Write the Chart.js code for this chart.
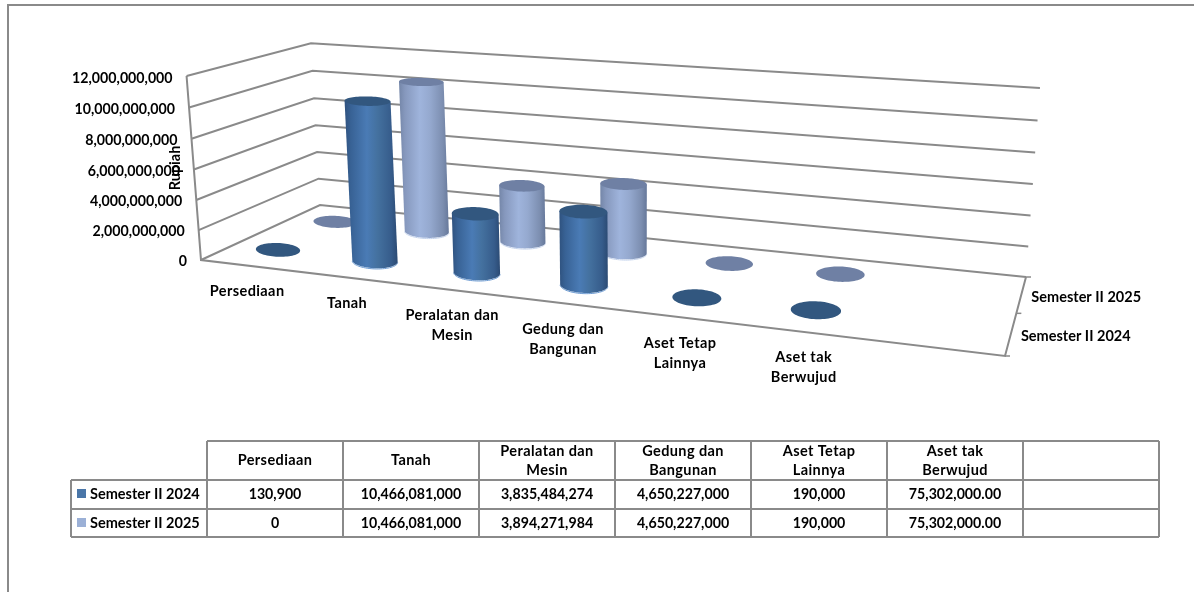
<!DOCTYPE html>
<html>
<head>
<meta charset="utf-8">
<style>html,body{margin:0;padding:0;background:#fff;overflow:hidden}canvas{display:block}</style>
<script src="https://cdn.jsdelivr.net/npm/chart.js@4"></script>
</head>
<body>
<canvas id="c" width="1194" height="592"></canvas>
<script>
const categories = [['Persediaan'], ['Tanah'], ['Peralatan dan','Mesin'], ['Gedung dan','Bangunan'], ['Aset Tetap','Lainnya'], ['Aset tak','Berwujud'], ['']];
const series2024 = [130900, 10466081000, 3835484274, 4650227000, 190000, 75302000, null];
const series2025 = [0, 10466081000, 3894271984, 4650227000, 190000, 75302000, null];
const table2024 = ['130,900','10,466,081,000','3,835,484,274','4,650,227,000','190,000','75,302,000.00',''];
const table2025 = ['0','10,466,081,000','3,894,271,984','4,650,227,000','190,000','75,302,000.00',''];
const seriesNames = ['Semester II 2024','Semester II 2025'];
const yAxisTitle = 'Rupiah';

const FONT_NUM = 'bold 14.2px Lato, Carlito, sans-serif';
const FONT_LAB = 'bold 14.5px Lato, Carlito, sans-serif';
const LINE = '#8a8a8a';
const TEXT = '#000';

// camera: floor homography plus a vertical vanishing point
function camera(p0,p1,p2,p3,vp,s){
  const dx1=p1[0]-p2[0],dx2=p3[0]-p2[0],sx=p0[0]-p1[0]+p2[0]-p3[0];
  const dy1=p1[1]-p2[1],dy2=p3[1]-p2[1],sy=p0[1]-p1[1]+p2[1]-p3[1];
  const den=dx1*dy2-dx2*dy1;
  const g=(sx*dy2-dx2*sy)/den,h=(dx1*sy-sx*dy1)/den;
  const a=p1[0]-p0[0]+g*p1[0],b=p3[0]-p0[0]+h*p3[0],c=p0[0];
  const d=p1[1]-p0[1]+g*p1[1],e=p3[1]-p0[1]+h*p3[1],f=p0[1];
  return (u,v,t)=>{
    const w=g*u+h*v+1+s*t;
    return [(a*u+b*v+c+vp[0]*s*t)/w,(d*u+e*v+f+vp[1]*s*t)/w];
  };
}
const P = camera([201,260],[1005,356],[1026,277],[320,205],[627,5693],-0.03276);

function poly(ctx,pts,close){
  ctx.beginPath();
  pts.forEach((p,i)=>i?ctx.lineTo(p[0],p[1]):ctx.moveTo(p[0],p[1]));
  if(close)ctx.closePath();
}
function ring(u,v,t,ru,rv){
  const c=P(u,v,t),e=.005;
  const pu0=P(u-e,v,t),pu1=P(u+e,v,t),pv0=P(u,v-e,t),pv1=P(u,v+e,t);
  const dXdu=(pu1[0]-pu0[0])/(2*e),dYdu=(pu1[1]-pu0[1])/(2*e),dYdv=(pv1[1]-pv0[1])/(2*e);
  const a=ru*Math.sqrt(Math.abs(dXdu)*700),tilt=.3*dYdu/dXdu,b=rv*Math.abs(dYdv);
  const out=[];
  for(let i=0;i<72;i++){
    const th=i/72*Math.PI*2,cs=Math.cos(th),sn=Math.sin(th);
    out.push([c[0]+a*cs,c[1]+a*cs*tilt+b*sn]);
  }
  return out;
}
const styles=[
  {stops:[[0,'#2f527f'],[.12,'#386295'],[.42,'#4a7bb5'],[.62,'#44719f'],[.88,'#365c8b'],[1,'#2b4a73']],top:'#32577f',rim:'#6d9bd2'},
  {stops:[[0,'#7486a8'],[.12,'#8698bd'],[.42,'#9fb4dc'],[.62,'#95a9cf'],[.88,'#7c8eb0'],[1,'#66789a']],top:'#6f80a4',rim:'#c3d2ec'}
];
function cylinder(ctx,u,v,t,ru,rv,s){
  const base=ring(u,v,0,ru,rv),top=ring(u,v,t,ru,rv);
  if(t>0.02){
    // ring index 0 is the right extreme, 36 the left; indices 0..36 run along the lower side
    const arc=base.slice(0,37);
    poly(ctx,arc.map(p=>[p[0],p[1]+.7]),false);
    ctx.strokeStyle=s.rim;ctx.lineWidth=1;ctx.stroke();
    const g=ctx.createLinearGradient(Math.min(base[36][0],top[36][0]),0,Math.max(base[0][0],top[0][0]),0);
    s.stops.forEach(x=>g.addColorStop(x[0],x[1]));
    poly(ctx,arc.concat([top[36],top[0]]),true);
    ctx.fillStyle=g;ctx.fill();
  }
  poly(ctx,top,true);
  ctx.fillStyle=s.top;ctx.fill();
}
const scene={
  id:'scene',
  beforeDatasetsDraw(chart){
    const ctx=chart.ctx,x=chart.scales.x,y=chart.scales.y;
    ctx.save();
    ctx.strokeStyle=LINE;ctx.lineWidth=2;
    poly(ctx,[[8,592],[8,5],[1194,5]],false);ctx.stroke();
    ctx.lineJoin='miter';
    y.ticks.forEach(tk=>{
      const t=(y.bottom-y.getPixelForValue(tk.value))/(y.bottom-y.top);
      poly(ctx,[P(0,0,t),P(0,1,t),P(1,1,t)],false);
      ctx.lineWidth=2;ctx.strokeStyle=LINE;ctx.stroke();
    });
    poly(ctx,[P(0,0,1),P(0,0,0),P(1,0,0),P(1,1,0)],false);ctx.stroke();
    [0,.5,1].forEach(v=>{const p=P(1,v,0);poly(ctx,[p,[p[0]+5,p[1]]],false);ctx.lineWidth=1.5;ctx.stroke();});
    const n=chart.data.datasets.length;
    for(let ds=n-1;ds>=0;ds--){
      const meta=chart.getDatasetMeta(ds);
      meta.data.forEach((el,i)=>{
        if(chart.data.datasets[ds].data[i]==null)return;
        const u=(el.x-x.left)/x.width-0.004;
        const t=(el.base-el.y)/(y.bottom-y.top);
        const ru=el.width/2/x.width;
        cylinder(ctx,u,(ds+.5)/n,t,ru,0.115,styles[ds]);
      });
    }
    ctx.fillStyle=TEXT;ctx.font=FONT_NUM;ctx.textBaseline='middle';
    ctx.textAlign='right';
    y.ticks.forEach(tk=>{
      const t=(y.bottom-y.getPixelForValue(tk.value))/(y.bottom-y.top);
      const p=P(0,0,t);
      ctx.fillText(tk.label,p[0]-14,p[1]+1.5+t);
    });
    ctx.font=FONT_LAB;ctx.letterSpacing='0.4px';
    ctx.textAlign='center';
    x.ticks.forEach((tk,i)=>{
      const p=P((x.getPixelForTick(i)-x.left)/x.width,0,0);
      const lines=[].concat(tk.label);
      lines.forEach((l,k)=>ctx.fillText(l,p[0]-2,p[1]+25.5+k*20));
    });
    ctx.letterSpacing='0px';
    ctx.textAlign='left';
    chart.data.datasets.forEach((d,ds)=>{
      const p=P(1,(ds+.5)/n,0);
      ctx.fillText(d.label,p[0]+10,p[1]+3);
    });
    ctx.save();
    ctx.translate(175,168);ctx.rotate(-Math.PI/2);ctx.textAlign='center';
    ctx.fillText(yAxisTitle,0,0);
    ctx.restore();
    const colX=[71,207,343,479,615,751,887,1023,1159],rowY=[441,480,509,537];
    ctx.strokeStyle=LINE;ctx.lineWidth=2;
    poly(ctx,[[207,rowY[0]],[1159,rowY[0]]],false);ctx.stroke();
    [1,2,3].forEach(r=>{poly(ctx,[[71,rowY[r]],[1159,rowY[r]]],false);ctx.stroke();});
    colX.forEach((cx,c)=>{poly(ctx,[[cx,c===0?rowY[1]:rowY[0]],[cx,rowY[3]]],false);ctx.stroke();});
    ctx.fillStyle=TEXT;ctx.textAlign='center';
    categories.forEach((lab,c)=>{
      const cx=(colX[c+1]+colX[c+2])/2;
      ctx.font=FONT_LAB;ctx.letterSpacing='0.4px';
      if(lab.length===1)ctx.fillText(lab[0],cx,460.5);
      else lab.forEach((l,k)=>ctx.fillText(l,cx,451+k*19));
      ctx.font=FONT_NUM;ctx.letterSpacing='0px';
      ctx.fillText(table2024[c],cx,494.5);
      ctx.fillText(table2025[c],cx,523);
    });
    ctx.font=FONT_LAB;
    ctx.textAlign='left';
    seriesNames.forEach((nm,r)=>{
      const cy=[494,523][r];
      ctx.fillStyle=['#4a76a8','#9bb0d6'][r];
      ctx.fillRect(77,cy-5,9,9);
      ctx.fillStyle=TEXT;
      ctx.fillText(nm,90,cy+.5);
    });
    ctx.restore();
    return false;
  }
};
new Chart(document.getElementById('c'),{
  type:'bar',
  data:{labels:categories,datasets:[
    {label:seriesNames[0],data:series2024,backgroundColor:'#4a76a8',grouped:false,barPercentage:.455,categoryPercentage:1},
    {label:seriesNames[1],data:series2025,backgroundColor:'#9bb0d6',grouped:false,barPercentage:.455,categoryPercentage:1}
  ]},
  options:{
    responsive:false,animation:false,
    layout:{padding:{left:201,right:189,top:76,bottom:332}},
    plugins:{legend:{display:false},tooltip:{enabled:false}},
    scales:{
      x:{display:false},
      y:{display:false,min:0,max:12000000000,ticks:{stepSize:2000000000,callback:v=>v.toLocaleString('en-US')}}
    }
  },
  plugins:[scene]
});
</script>
</body>
</html>
